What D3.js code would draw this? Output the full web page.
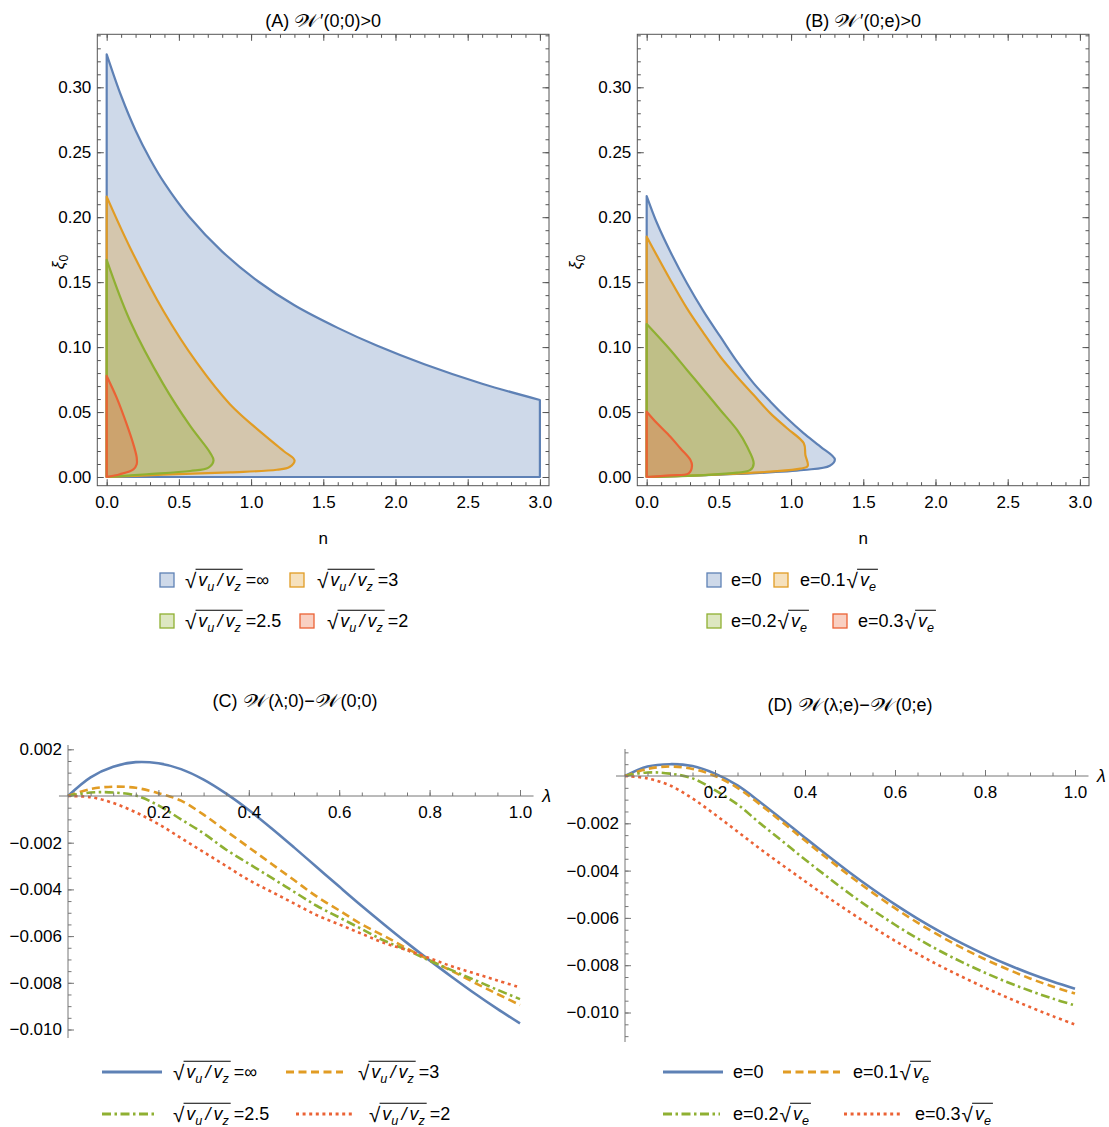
<!DOCTYPE html>
<html>
<head>
<meta charset="utf-8">
<script src="https://cdn.jsdelivr.net/npm/d3@7"></script>
<style>
  body { margin: 0; background: #fff; }
  svg text { font-family: "Liberation Sans", Arial, sans-serif; fill: #000; }
</style>
</head>
<body>
<svg id="chart" width="1109" height="1127"></svg>
<script>
// series colours (Mathematica 97 palette)
const colors = ['#5e81b5', '#e19c24', '#8fb032', '#eb6235'];
const ratioLabels = ['∞', '3', '2.5', '2'];       // sqrt(vu/vz) values
const eLabels = ['0', '0.1', '0.2', '0.3'];        // e values (times sqrt(ve))

// (A) region boundaries [n, xi0], outer edge from top of n=0 down to origin
const regA_inf = [[0,0.3254],[0.1,0.2935],[0.2,0.2668],[0.3,0.2448],[0.4,0.2262],[0.57,0.2005],[0.8,0.1735],
  [1.05,0.1505],[1.3,0.1322],[1.6,0.1148],[1.87,0.1012],[2.2,0.0868],[2.6,0.0718],[3,0.0593]];
const regA_3 = [[0,0.2158],[0.162,0.1765],[0.393,0.1278],[0.624,0.088],[0.855,0.0559],[1.086,0.0328],[1.225,0.02],
  [1.301,0.0128],[1.266,0.0077],[1.179,0.0056],[0.855,0.0036],[0.393,0.0018],[0,0]];
const regA_25 = [[0,0.1671],[0.162,0.1201],[0.393,0.0713],[0.578,0.0393],[0.716,0.0187],[0.74,0.0128],
  [0.705,0.0072],[0.578,0.0046],[0.277,0.0021],[0,0]];
const regA_2 = [[0,0.0778],[0.069,0.0611],[0.139,0.0405],[0.185,0.0251],[0.208,0.0149],[0.208,0.0098],
  [0.185,0.0059],[0.092,0.0021],[0,0]];

// (B) region boundaries
const regB_0 = [[0,0.2163],[0.072,0.1953],[0.164,0.1734],[0.279,0.1491],[0.395,0.1273],[0.51,0.108],[0.626,0.0888],
  [0.741,0.0721],[0.857,0.058],[0.972,0.0452],[1.088,0.0336],[1.203,0.0234],[1.303,0.0136],[1.268,0.0087],
  [1.088,0.0054],[0.626,0.0023],[0,0]];
const regB_1 = [[0,0.185],[0.164,0.1517],[0.279,0.1298],[0.395,0.1106],[0.51,0.0926],[0.626,0.0772],[0.741,0.0631],
  [0.857,0.049],[0.972,0.0375],[1.088,0.0259],[1.099,0.0169],[1.115,0.0085],[1.065,0.0064],[0.857,0.0041],
  [0.395,0.0015],[0,0]];
const regB_2 = [[0,0.1178],[0.164,0.0978],[0.279,0.0824],[0.395,0.067],[0.51,0.0516],[0.626,0.0362],[0.695,0.0234],
  [0.741,0.0105],[0.718,0.0054],[0.626,0.0033],[0.395,0.0015],[0,0]];
const regB_3 = [[0,0.0503],[0.072,0.0413],[0.164,0.031],[0.233,0.0221],[0.303,0.0131],[0.314,0.0087],
  [0.291,0.0028],[0.164,0.0013],[0,0]];

// (C), (D) curves
const lambda = [0,0.05,0.1,0.15,0.2,0.25,0.3,0.35,0.4,0.45,0.5,0.55,0.6,0.65,0.7,0.75,0.8,0.85,0.9,0.95,1.0];
const wC_inf = [0,0.0008,0.00125,0.00145,0.0014,0.00115,0.0007,0.0001,-0.0006,-0.00138,-0.0022,-0.00304,-0.00388,-0.00471,-0.00551,-0.00629,-0.00704,-0.00776,-0.00846,-0.00912,-0.00974];
const wC_3   = [0,0.0003,0.0004,0.00035,0.00012,-0.0002,-0.0008,-0.0015,-0.0022,-0.0029,-0.0036,-0.0043,-0.0049,-0.0055,-0.006,-0.00653,-0.00703,-0.0075,-0.008,-0.00848,-0.00895];
const wC_25  = [0,0.00015,0.00015,0.00002,-0.0004,-0.001,-0.0016,-0.0023,-0.0029,-0.0035,-0.0041,-0.0047,-0.0052,-0.0057,-0.0062,-0.0066,-0.00705,-0.00747,-0.00788,-0.0083,-0.0087];
const wC_2   = [0,-0.00005,-0.0003,-0.0007,-0.0012,-0.0018,-0.0024,-0.003,-0.0036,-0.0041,-0.0046,-0.0051,-0.0055,-0.0059,-0.0063,-0.0066,-0.00695,-0.0073,-0.0076,-0.0079,-0.0082];
const wD_0   = [0,0.0004,0.0005,0.00042,0.0001,-0.0004,-0.0011,-0.00185,-0.00261,-0.00336,-0.00409,-0.00478,-0.00543,-0.00603,-0.00658,-0.00709,-0.00755,-0.00797,-0.00835,-0.00869,-0.009];
const wD_1   = [0,0.0003,0.0004,0.0003,0,-0.0005,-0.0012,-0.00196,-0.00273,-0.00349,-0.00423,-0.00493,-0.00559,-0.0062,-0.00676,-0.00728,-0.00775,-0.00817,-0.00856,-0.0089,-0.0092];
const wD_2   = [0,0.00015,0.0001,-0.0001,-0.0006,-0.0012,-0.002,-0.00276,-0.00353,-0.00427,-0.00499,-0.00566,-0.00629,-0.00687,-0.0074,-0.00788,-0.00832,-0.00872,-0.00908,-0.00941,-0.0097];
const wD_3   = [0,-0.0001,-0.0004,-0.00095,-0.00163,-0.00235,-0.00308,-0.00377,-0.00445,-0.00512,-0.00576,-0.00638,-0.00697,-0.00752,-0.00803,-0.0085,-0.00895,-0.00937,-0.00977,-0.01015,-0.01051];

const dashes = [null, '8,4.5', '9,3.5,2.5,3.5', '3,3.6'];

const svg = d3.select('#chart');
const FS = 17;     // tick labels
const LFS = 18;    // legend / titles

// text made of runs (italic, subscripts, x-stretched glyphs, radical with overline)
function mathRuns(g, x, y, runs, size) {
  let cx = x, o0 = null, o1 = null;
  runs.forEach(r => {
    const fs = r.sub ? size * 0.7 : (r.root ? size * 1.15 : size);
    const ty = y + (r.sub ? size * 0.3 : 0) + (r.root ? size * 0.1 : 0);
    const sx = r.sx || 1;
    const t = g.append('text')
      .attr('transform', `translate(${cx},${ty}) scale(${sx},1)`)
      .style('font-size', fs + 'px')
      .style('font-style', r.it ? 'italic' : 'normal')
      .text(r.t);
    const w = t.node().getComputedTextLength() * sx;
    if (r.root) o0 = cx + w - 0.8;
    if (r.over) o1 = cx + w;
    cx += w + (r.gap || 0);
  });
  if (o0 !== null) {
    g.append('line').attr('x1', o0).attr('x2', o1 + 2)
      .attr('y1', y - size * 0.93).attr('y2', y - size * 0.93)
      .attr('stroke', '#000').attr('stroke-width', 1);
  }
  return cx - x;
}
function centered(cx, y, runs, size) {
  const g = svg.append('g');
  const w = mathRuns(g, 0, y, runs, size);
  g.attr('transform', `translate(${cx - w / 2},0)`);
}
const W = {t: '𝒲', sx: 1.3, gap: 1};
const ratioRuns = v => [
  {t: '√', root: true, gap: 2},
  {t: 'v', it: true, over: true}, {t: 'u', it: true, sub: true, over: true, gap: 3},
  {t: '/', it: true, over: true, gap: 3},
  {t: 'v', it: true, over: true}, {t: 'z', it: true, sub: true, over: true, gap: 5},
  {t: '=' + v}
];
const eRuns = v => v === '0' ? [{t: 'e=0'}] : [
  {t: 'e=' + v, gap: 1}, {t: '√', root: true, gap: 2},
  {t: 'v', it: true, over: true}, {t: 'e', it: true, sub: true, over: true}
];

function styleAxis(ag, stroke) {
  ag.select('.domain').remove();
  ag.selectAll('line').attr('stroke', stroke);
  ag.selectAll('text').style('font-size', FS + 'px')
    .style('font-family', '"Liberation Sans", Arial, sans-serif').attr('fill', '#000');
}

// ---------- region panels (A), (B) ----------
function regionPanel(left, right, titleRuns, regions, firstIsBox, yLabelX) {
  const top = 34.3, bottom = 485.7;
  const x = d3.scaleLinear().domain([-0.065, 3.063]).range([left, right]);
  const y = d3.scaleLinear().domain([-0.0067, 0.3408]).range([bottom, top]);
  const g = svg.append('g');

  const curve = d3.line().x(d => x(d[0])).y(d => y(d[1])).curve(d3.curveCatmullRom.alpha(0.5));
  regions.forEach((pts, i) => {
    let p = curve(pts);
    if (i === 0 && firstIsBox) {
      const end = pts[pts.length - 1];
      p += 'L' + x(end[0]) + ',' + y(0) + 'L' + x(0) + ',' + y(0);
    }
    p += 'Z';
    g.append('path').attr('d', p)
      .attr('fill', colors[i]).attr('fill-opacity', 0.3)
      .attr('stroke', colors[i]).attr('stroke-width', 2.2).attr('stroke-linejoin', 'round');
  });

  // frame + ticks
  g.append('rect').attr('x', left).attr('y', top).attr('width', right - left).attr('height', bottom - top)
    .attr('fill', 'none').attr('stroke', '#555').attr('stroke-width', 1);
  const xMaj = d3.range(0, 3.01, 0.5), xMin = d3.range(0, 3.01, 0.1);
  const yMaj = d3.range(0, 0.301, 0.05), yMin = d3.range(0, 0.341, 0.01);
  const ax = [
    [d3.axisBottom(x).tickValues(xMaj).tickSize(-6.5).tickPadding(10).tickFormat(d3.format('.1f')), `translate(0,${bottom})`],
    [d3.axisBottom(x).tickValues(xMin).tickSize(-3.5).tickFormat(''), `translate(0,${bottom})`],
    [d3.axisTop(x).tickValues(xMaj).tickSize(-6.5).tickFormat(''), `translate(0,${top})`],
    [d3.axisTop(x).tickValues(xMin).tickSize(-3.5).tickFormat(''), `translate(0,${top})`],
    [d3.axisLeft(y).tickValues(yMaj).tickSize(-6.5).tickPadding(6).tickFormat(d3.format('.2f')), `translate(${left},0)`],
    [d3.axisLeft(y).tickValues(yMin).tickSize(-3.5).tickFormat(''), `translate(${left},0)`],
    [d3.axisRight(y).tickValues(yMaj).tickSize(-6.5).tickFormat(''), `translate(${right},0)`],
    [d3.axisRight(y).tickValues(yMin).tickSize(-3.5).tickFormat(''), `translate(${right},0)`]
  ];
  ax.forEach(([a, tr]) => styleAxis(g.append('g').attr('transform', tr).call(a), '#555'));

  const cx = (left + right) / 2;
  centered(cx, 27, titleRuns, LFS);
  g.append('text').attr('x', cx).attr('y', 544).attr('text-anchor', 'middle').style('font-size', FS + 'px').text('n');
  const yl = g.append('text').attr('transform', `translate(${yLabelX},262) rotate(-90)`)
    .attr('text-anchor', 'middle').style('font-size', FS + 'px');
  yl.append('tspan').style('font-style', 'italic').text('ξ');
  yl.append('tspan').attr('dy', 4).style('font-size', '12px').text('0');
  return g;
}

regionPanel(97.3, 549, [{t: '(A)', gap: 5}, W, {t: '′(0;0)>0'}], [regA_inf, regA_3, regA_25, regA_2], true, 64);
regionPanel(637.3, 1089, [{t: '(B)', gap: 5}, W, {t: '′(0;e)>0'}], [regB_0, regB_1, regB_2, regB_3], false, 581);

// ---------- curve panels (C), (D) ----------
function curvePanel(x0, x1, y0, yK, titleRuns, titleX, titleY, series, yTop, yBot) {
  const x = d3.scaleLinear().domain([0, 1]).range([x0, x1]);
  const y = d3.scaleLinear().domain([0, -0.01]).range([y0, y0 + yK]);
  const g = svg.append('g');
  const line = d3.line().x((d, i) => x(lambda[i])).y(d => y(d)).curve(d3.curveCatmullRom.alpha(0.5));
  series.forEach((s, i) => {
    g.append('path').attr('d', line(s)).attr('fill', 'none')
      .attr('stroke', colors[i]).attr('stroke-width', 2.6)
      .attr('stroke-dasharray', dashes[i]);
  });

  // axes through the origin
  const xa = g.append('g').attr('transform', `translate(0,${y0})`);
  xa.append('line').attr('x1', x(-0.02)).attr('x2', x(1.03)).attr('y1', 0).attr('y2', 0).attr('stroke', '#777');
  const xMaj = d3.range(0.2, 1.01, 0.2), xMin = d3.range(0.05, 1.01, 0.05);
  styleAxis(xa.append('g').call(d3.axisBottom(x).tickValues(xMaj).tickSize(-6).tickPadding(10).tickFormat(d3.format('.1f'))), '#777');
  styleAxis(xa.append('g').call(d3.axisBottom(x).tickValues(xMin).tickSize(-3.5).tickFormat('')), '#777');
  const yDom = [y.invert(yBot), y.invert(yTop)];
  const ya = g.append('g').attr('transform', `translate(${x0},0)`);
  ya.append('line').attr('x1', 0).attr('x2', 0).attr('y1', yTop).attr('y2', yBot).attr('stroke', '#777');
  const yMaj = d3.range(-0.01, 0.0021, 0.002).filter(v => Math.abs(v) > 1e-9 && v >= yDom[0] && v <= yDom[1]);
  const yMin = d3.range(-0.012, 0.0025, 0.0005).filter(v => v >= yDom[0] && v <= yDom[1]);
  styleAxis(ya.append('g').call(d3.axisLeft(y).tickValues(yMaj).tickSize(-6).tickPadding(6).tickFormat(d3.format('.3f'))), '#777');
  styleAxis(ya.append('g').call(d3.axisLeft(y).tickValues(yMin).tickSize(-3.5).tickFormat('')), '#777');
  g.append('text').attr('x', x(1.03) + 13).attr('y', y0 + 6).attr('text-anchor', 'middle')
    .style('font-size', LFS + 'px').style('font-style', 'italic').text('λ');
  centered(titleX, titleY, titleRuns, LFS);
}

curvePanel(68, 520, 796, 233.5, [{t: '(C)', gap: 5}, W, {t: '(λ;0)−'}, W, {t: '(0;0)'}], 295, 707,
  [wC_inf, wC_3, wC_25, wC_2], 745, 1038);
curvePanel(625, 1075, 776, 236.5, [{t: '(D)', gap: 5}, W, {t: '(λ;e)−'}, W, {t: '(0;e)'}], 850, 711,
  [wD_0, wD_1, wD_2, wD_3], 749, 1042);

// ---------- legends ----------
const legSquares = [
  {labels: ratioLabels, runs: ratioRuns, items: [[160, 185, 580], [290, 317, 580], [160, 185, 621], [300, 327, 621]]},
  {labels: eLabels, runs: eRuns, items: [[707, 731, 580], [774, 800, 580], [707, 731, 621], [833, 858, 621]]}
];
legSquares.forEach(L => {
  const g = svg.append('g');
  L.items.forEach(([sx, tx, cy], i) => {
    g.append('rect').attr('x', sx).attr('y', cy - 7).attr('width', 14).attr('height', 14)
      .attr('fill', colors[i]).attr('fill-opacity', 0.3).attr('stroke', colors[i]).attr('stroke-width', 1.3);
    mathRuns(g, tx, cy + 6, L.runs(L.labels[i]), LFS);
  });
});
const legLines = [
  {labels: ratioLabels, runs: ratioRuns, items: [[102, 162, 173, 1072], [286, 343, 358, 1072], [102, 157, 173, 1114], [296, 354, 369, 1114]]},
  {labels: eLabels, runs: eRuns, items: [[663, 723, 733, 1072], [783, 840, 853, 1072], [663, 720, 733, 1114], [844, 902, 915, 1114]]}
];
legLines.forEach(L => {
  const g = svg.append('g');
  L.items.forEach(([a, b, tx, cy], i) => {
    g.append('line').attr('x1', a).attr('x2', b).attr('y1', cy).attr('y2', cy)
      .attr('stroke', colors[i]).attr('stroke-width', 2.8).attr('stroke-dasharray', dashes[i]);
    mathRuns(g, tx, cy + 6, L.runs(L.labels[i]), LFS);
  });
});
</script>
</body>
</html>
